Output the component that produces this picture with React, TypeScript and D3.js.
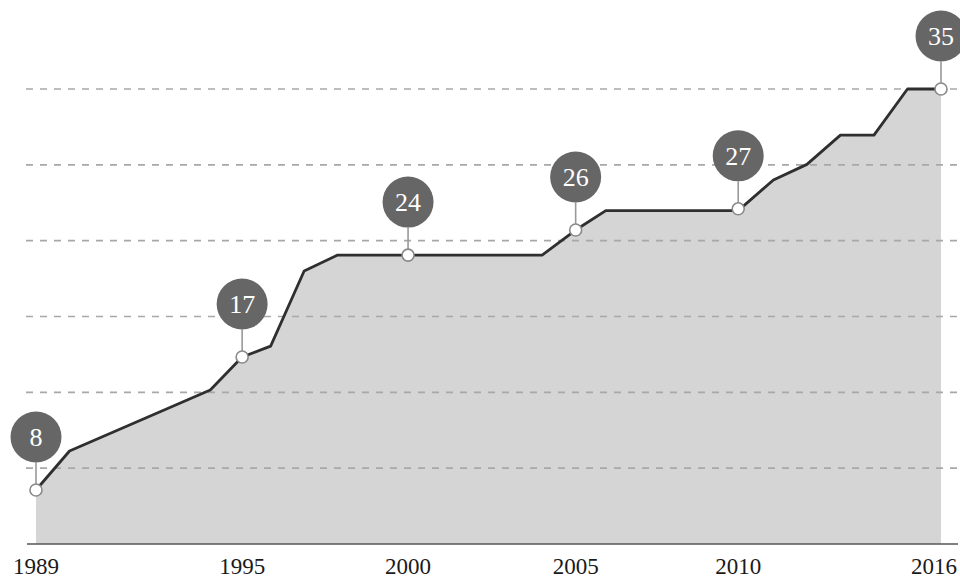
import React from "react";
import * as d3 from "d3";

const years = [1989, 1990, 1994.2, 1995.15, 1996, 1997, 1998, 2000.1, 2004.1, 2005.1, 2006, 2009.95, 2011, 2012, 2013, 2014, 2015, 2016];
const values = [8.56, 11.13, 15.15, 17.33, 18.05, 23.0, 24.05, 24.05, 24.05, 25.7, 26.98, 26.98, 29.0, 30.03, 31.96, 31.96, 35.0, 35.0];

const annotYears = [1989, 1995.15, 2000.1, 2005.1, 2009.95, 2016];
const annotValues = [8.56, 17.33, 24.05, 25.7, 27.1, 35.0];
const annotLabels = ["8", "17", "24", "26", "27", "35"];
const tickLabels = ["1989", "1995", "2000", "2005", "2010", "2016"];
const gridValues = [10, 15, 20, 25, 30, 35];

const W = 960;
const H = 579;
const FONT = "'Liberation Serif', 'DejaVu Serif', serif";

export default function App() {
  const x = d3.scaleLinear().domain([1989, 2016]).range([36, 941]);
  const y = d3.scaleLinear().domain([5, 35]).range([544, 89]);
  const data = years.map((yr, i) => ({ yr, v: values[i] }));

  const area = d3
    .area<{ yr: number; v: number }>()
    .x((d) => x(d.yr))
    .y0(y(5))
    .y1((d) => y(d.v));
  const line = d3
    .line<{ yr: number; v: number }>()
    .x((d) => x(d.yr))
    .y((d) => y(d.v));

  const bubbleR = 25.5;
  const bubbleOffset = 53;
  const pointR = 6;

  return (
    <div style={{ position: "absolute", left: 0, top: 0 }}>
      <svg width={W} height={H} style={{ display: "block" }}>
        <rect x={0} y={0} width={W} height={H} fill="#ffffff" />
        <path d={area(data) || ""} fill="#d5d5d5" />
        {gridValues.map((g) => (
          <line
            key={g}
            x1={26}
            x2={W}
            y1={y(g)}
            y2={y(g)}
            stroke="#a8a8a8"
            strokeWidth={1.6}
            strokeDasharray="7,7"
          />
        ))}
        <line x1={27} x2={958} y1={y(5)} y2={y(5)} stroke="#555" strokeWidth={1.6} />
        <path d={line(data) || ""} fill="none" stroke="#2f2f2f" strokeWidth={2.8} strokeLinejoin="round" />
        {annotYears.map((yr, i) => {
          const cx = x(yr);
          const cy = y(annotValues[i]);
          const by = cy - bubbleOffset;
          return (
            <g key={i}>
              <line x1={cx} x2={cx} y1={by + bubbleR} y2={cy - pointR} stroke="#999" strokeWidth={1.6} />
              <circle cx={cx} cy={by} r={bubbleR} fill="#666666" />
              <text
                x={cx}
                y={by + 9}
                textAnchor="middle"
                fill="#ffffff"
                fontFamily={FONT}
                fontSize={26}
              >
                {annotLabels[i]}
              </text>
              <circle cx={cx} cy={cy} r={pointR} fill="#ffffff" stroke="#8a8a8a" strokeWidth={1.6} />
            </g>
          );
        })}
        {annotYears.map((yr, i) => {
          const last = i === annotYears.length - 1;
          return (
            <text
              key={"t" + i}
              x={last ? 957 : x(yr)}
              y={574}
              textAnchor={last ? "end" : "middle"}
              fill="#1a1a1a"
              fontFamily={FONT}
              fontSize={23}
            >
              {tickLabels[i]}
            </text>
          );
        })}
      </svg>
    </div>
  );
}
